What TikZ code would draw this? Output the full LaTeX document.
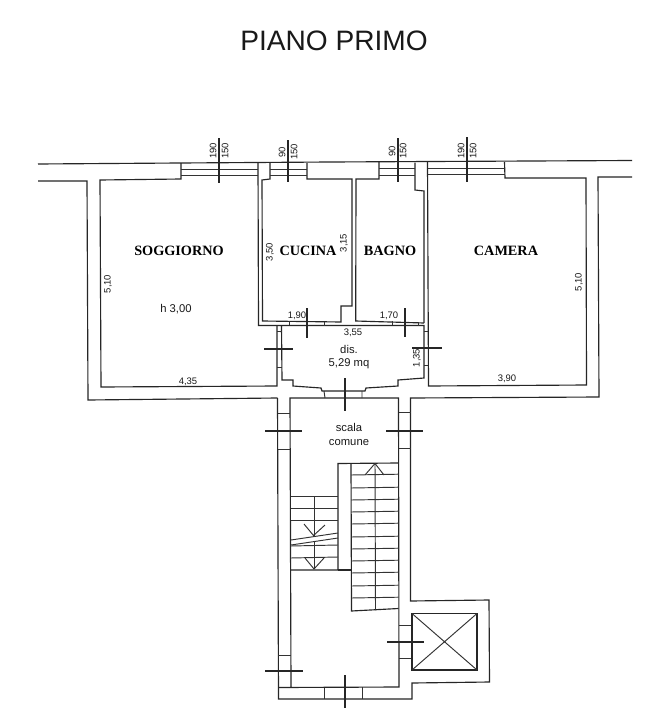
\documentclass[tikz,border=0pt]{standalone}
\usepackage{fontspec}
\setmainfont{Liberation Sans}
\newfontfamily\roomfont{Liberation Serif}[BoldFont={Liberation Serif Bold}]
\tikzset{
  wall/.style={line width=1.15pt,draw=black!85,line join=miter},
  thinw/.style={line width=0.95pt,draw=black!80},
  crosshair/.style={line width=1.05pt,draw=black!85},
  dim/.style={font=\fontsize{9.5}{10}\selectfont,text=black!90,inner sep=0pt},
  note/.style={font=\fontsize{11.3}{12}\selectfont,text=black!90,inner sep=0pt},
  room/.style={font=\roomfont\bfseries\fontsize{14.3}{16}\selectfont,text=black,inner sep=0pt},
}
\begin{document}
\begin{tikzpicture}[x=1bp,y=-1bp]
\useasboundingbox (0,0) rectangle (650,716);
\fill[white] (0,0) rectangle (650,716);
\node[inner sep=0pt,font=\fontsize{28.2}{30}\selectfont,text=black!90] (title) at (334,41) {PIANO PRIMO};
% outer top wall
\draw[wall] (38,164) -- (180,163) -- (330,162) -- (632,160.5);
\draw[wall] (38,181) -- (87,181) -- (88,400) -- (277.5,398);
\draw[wall] (277,326) -- (277,386) -- (101,387) -- (100,180) -- (181,179) -- (181,163);
\draw[wall] (258,163) -- (258.5,325.5) -- (424,325.5) -- (424,378) -- (398,380) -- (398,386) -- (366,388) -- (365,391) -- (322,391) -- (321,388) -- (293,386) -- (293,380) -- (282,380) -- (281.5,325.5);
\draw[wall] (270,163) -- (270,179) -- (262,180) -- (262.5,321) -- (341,322) -- (341,306) -- (352,306) -- (352,179) -- (307,179) -- (307,163);
\draw[wall] (379,162) -- (379,179) -- (356,179) -- (355.7,321) -- (424,323);
\draw[wall] (415,162.5) -- (415,190) -- (424,191) -- (424,323);
\draw[wall] (427.5,162) -- (428.5,386) -- (586.5,385) -- (586,178) -- (505,178) -- (504.5,162);
\draw[wall] (632,177) -- (598,177) -- (599,397) -- (410.5,398) -- (410.5,601) -- (489,600) -- (489.5,682) -- (412,683) -- (412,699) -- (278.5,699) -- (277.5,398);
\draw[wall] (291,687.5) -- (290,398) -- (398.5,398) -- (399,687) -- (279,687.5);
% windows
\draw[thinw] (181,169) -- (258,169) (181,175) -- (258,175);
\draw[thinw] (270,169) -- (307,169) (270,175) -- (307,175);
\draw[thinw] (379,168) -- (415,168) (379,175) -- (415,175);
\draw[thinw] (427.5,168) -- (505,168) (427.5,174) -- (505,174);
% door marks
\draw[thinw] (289,321) -- (289,325) (324,322) -- (324,326) (392,321) -- (392,325) (418,322) -- (418,326);
\draw[thinw] (277,331) -- (281.5,331) (277,367) -- (281.5,367);
\draw[thinw] (424,331) -- (428,331) (424,365) -- (428,365);
\draw[thinw] (324,391) -- (325,398) (362,391) -- (362,398);
\draw[thinw] (277.5,413) -- (290,413) (277.5,449) -- (290,449);
\draw[thinw] (398.5,412) -- (410.5,412) (398.5,448) -- (410.5,448);
\draw[thinw] (278,655) -- (290.5,655);
\draw[thinw] (399,625) -- (412,625) (399,658) -- (412,658);
\draw[thinw] (324,688) -- (324,699) (362,687) -- (362,699);
% crosshairs
\draw[crosshair] (219,138) -- (219,183);
\draw[crosshair] (288,140) -- (288,182);
\draw[crosshair] (398,138) -- (398,182);
\draw[crosshair] (467,137) -- (467,182);
\draw[crosshair] (307,308) -- (307,338);
\draw[crosshair] (405,308) -- (405,337);
\draw[crosshair] (264,349) -- (293,349);
\draw[crosshair] (412,348) -- (442,348);
\draw[crosshair] (345,378) -- (345,411);
\draw[crosshair] (265,431) -- (302,431);
\draw[crosshair] (386,431) -- (423,431);
\draw[crosshair] (265,671) -- (303,671);
\draw[crosshair] (387,642) -- (424,642);
\draw[crosshair] (345,675) -- (345,708);
% main stair
\draw[wall] (290.5,570) -- (338,570) -- (338,463.5) -- (398.5,463);
\draw[wall] (338,570) -- (351,570);
\draw[wall] (351,463.5) -- (351.5,611) -- (398.5,608.5);
\foreach \yy in {475,488,500,512,524,537,549,561,573,586,598}
  \draw[thinw] (351,\yy) -- (398.5,\yy-0.8);
\draw[thinw] (375,463) -- (375.5,610);
\draw[thinw] (365,475) -- (375,463.5) -- (384,475);
% lower stair
\foreach \yy in {496,508,520}
  \draw[thinw] (290.5,\yy) -- (338,\yy);
\foreach \yy in {546,558}
  \draw[thinw] (290.5,\yy) -- (338,\yy-1);
\draw[thinw] (291,540) -- (338,533) (291,545) -- (338,538);
\draw[thinw] (314,496) -- (314,536) (314,542) -- (314,569);
\draw[thinw] (304,524) -- (313.5,535.5) -- (325,525);
\draw[thinw] (305,558) -- (314,569) -- (324,558);
% lift
\draw[wall] (412,613.5) rectangle (477,670);
\draw[thinw] (412,613.5) -- (477,670) (412,670) -- (477,613.5);
% rotated dimensions
\node[dim,rotate=90] (a1) at (213,151) {190};
\node[dim,rotate=90] (a2) at (225,151) {150};
\node[dim,rotate=90] (a3) at (282,152) {90};
\node[dim,rotate=90] (a4) at (294,152) {150};
\node[dim,rotate=90] (a5) at (392,151) {90};
\node[dim,rotate=90] (a6) at (403,151) {150};
\node[dim,rotate=90] (a7) at (461,151) {190};
\node[dim,rotate=90] (a8) at (473,151) {150};
\node[dim,rotate=90] (b1) at (270,252) {3,50};
\node[dim,rotate=90] (b2) at (344,243) {3,15};
\node[dim,rotate=90] (b3) at (108,284) {5,10};
\node[dim,rotate=90] (b4) at (579,282) {5,10};
\node[dim,rotate=90] (b5) at (417,358) {1,35};
% horizontal dimensions
\node[dim] (c1) at (297,316) {1,90};
\node[dim] (c2) at (389,316) {1,70};
\node[dim] (c3) at (353,333) {3,55};
\node[dim] (c4) at (188,382) {4,35};
\node[dim] (c5) at (507,379) {3,90};
% notes
\node[note] (n1) at (176,309) {h 3,00};
\node[note] (n2) at (349,349) {dis.};
\node[note] (n3) at (349,364) {5,29 mq};
\node[note] (n4) at (349,427) {scala};
\node[note] (n5) at (349,443) {comune};
% rooms
\node[room] (r1) at (179,251) {SOGGIORNO};
\node[room] (r2) at (308,251) {CUCINA};
\node[room] (r3) at (390,251) {BAGNO};
\node[room] (r4) at (506,251) {CAMERA};
\end{tikzpicture}
\end{document}
